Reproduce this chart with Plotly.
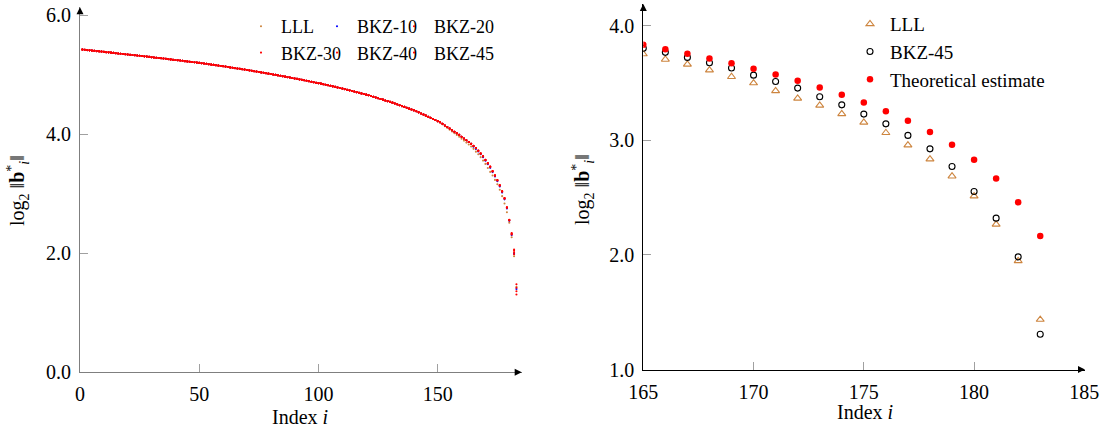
import plotly.graph_objects as go

# ---- Gram-Schmidt log-norm profiles, indices 1..183 ----
INDEX = list(range(1, 184))

# indices 1..149: all reductions overlap
PROFILE_HEAD = [
    5.420, 5.416, 5.411, 5.407, 5.403, 5.399, 5.394, 5.390, 5.386, 5.381,
    5.377, 5.373, 5.368, 5.364, 5.359, 5.355, 5.351, 5.346, 5.342, 5.337,
    5.333, 5.329, 5.324, 5.320, 5.315, 5.311, 5.306, 5.302, 5.297, 5.293,
    5.288, 5.283, 5.279, 5.274, 5.269, 5.265, 5.260, 5.255, 5.250, 5.246,
    5.241, 5.236, 5.231, 5.226, 5.221, 5.216, 5.211, 5.206, 5.201, 5.196,
    5.191, 5.185, 5.180, 5.174, 5.168, 5.163, 5.157, 5.151, 5.145, 5.140,
    5.134, 5.128, 5.121, 5.115, 5.109, 5.103, 5.096, 5.090, 5.084, 5.077,
    5.071, 5.064, 5.057, 5.050, 5.043, 5.037, 5.030, 5.023, 5.016, 5.009,
    5.002, 4.995, 4.987, 4.980, 4.972, 4.965, 4.958, 4.950, 4.943, 4.935,
    4.928, 4.920, 4.912, 4.904, 4.896, 4.888, 4.880, 4.872, 4.864, 4.856,
    4.848, 4.839, 4.830, 4.820, 4.811, 4.802, 4.793, 4.784, 4.774, 4.765,
    4.756, 4.746, 4.735, 4.725, 4.715, 4.705, 4.694, 4.684, 4.674, 4.663,
    4.653, 4.641, 4.628, 4.616, 4.603, 4.591, 4.579, 4.566, 4.554, 4.541,
    4.529, 4.515, 4.500, 4.486, 4.471, 4.457, 4.442, 4.428, 4.413, 4.399,
    4.384, 4.366, 4.347, 4.329, 4.310, 4.292, 4.273, 4.255, 4.236,
]

# indices 150..164
BKZ_MID = [4.218, 4.199, 4.173, 4.146, 4.120, 4.093, 4.067, 4.040, 4.014,
           3.987, 3.957, 3.927, 3.897, 3.867, 3.837]
LLL_MID = [4.215, 4.193, 4.164, 4.134, 4.105, 4.075, 4.046, 4.016, 3.987,
           3.957, 3.924, 3.891, 3.858, 3.825, 3.791]

# indices 165..183
TAIL_INDEX = list(range(165, 184))
LLL_TAIL = [3.753, 3.706, 3.663, 3.613, 3.555, 3.500, 3.432, 3.366, 3.305, 3.231,
            3.157, 3.066, 2.958, 2.836, 2.687, 2.513, 2.267, 1.948, 1.436]
BKZ10_TAIL = [3.790, 3.752, 3.708, 3.661, 3.612, 3.552, 3.494, 3.434, 3.362, 3.290,
              3.209, 3.122, 3.020, 2.905, 2.752, 2.545, 2.305, 1.990, 1.400]
BKZ20_TAIL = [3.798, 3.762, 3.717, 3.670, 3.623, 3.561, 3.505, 3.446, 3.372, 3.301,
              3.220, 3.134, 3.032, 2.916, 2.762, 2.552, 2.315, 2.010, 1.480]
BKZ30_TAIL = [3.801, 3.765, 3.721, 3.674, 3.627, 3.566, 3.510, 3.451, 3.376, 3.306,
              3.225, 3.140, 3.038, 2.921, 2.768, 2.556, 2.330, 2.040, 1.360]
BKZ40_TAIL = [3.802, 3.767, 3.723, 3.676, 3.629, 3.568, 3.512, 3.454, 3.378, 3.308,
              3.227, 3.142, 3.041, 2.924, 2.770, 2.560, 2.340, 2.060, 1.420]
BKZ45_TAIL = [3.803, 3.768, 3.724, 3.677, 3.631, 3.569, 3.514, 3.456, 3.380, 3.310,
              3.229, 3.144, 3.043, 2.926, 2.772, 2.554, 2.321, 1.983, 1.307]
THEORY_TAIL = [3.834, 3.794, 3.755, 3.715, 3.672, 3.624, 3.575, 3.520, 3.462, 3.397,
               3.331, 3.255, 3.170, 3.072, 2.961, 2.830, 2.667, 2.460, 2.166]

SERIES_NAMES = ["LLL", "BKZ-10", "BKZ-20", "BKZ-30", "BKZ-40", "BKZ-45"]
SERIES_VALUES = [
    PROFILE_HEAD + LLL_MID + LLL_TAIL,
    PROFILE_HEAD + BKZ_MID + BKZ10_TAIL,
    PROFILE_HEAD + BKZ_MID + BKZ20_TAIL,
    PROFILE_HEAD + BKZ_MID + BKZ30_TAIL,
    PROFILE_HEAD + BKZ_MID + BKZ40_TAIL,
    PROFILE_HEAD + BKZ_MID + BKZ45_TAIL,
]

LEFT_XTICKS = [0, 50, 100, 150]
LEFT_YTICKS = [0.0, 2.0, 4.0, 6.0]
RIGHT_XTICKS = [165, 170, 175, 180, 185]
RIGHT_YTICKS = [1.0, 2.0, 3.0, 4.0]

BROWN = "#cd853f"
SERIES_COLORS = [BROWN, "#0000ff", "#ff0000", "#ff0000", "#ff0000", "#ff0000"]
# three legend columns of two rows each
SERIES_LEGENDS = ["legend", "legend3", "legend4", "legend", "legend3", "legend4"]

FONT = "Liberation Serif"
FS = 20
W, H = 1106, 429

fig = go.Figure()

# left panel: full profiles
for name, vals, col, lg in zip(SERIES_NAMES, SERIES_VALUES, SERIES_COLORS, SERIES_LEGENDS):
    fig.add_trace(go.Scatter(
        x=INDEX, y=vals, mode="markers", name=name, legend=lg,
        marker=dict(size=2.1, color=col, line=dict(width=0)),
        xaxis="x", yaxis="y",
    ))

# right panel: tail of the profile
fig.add_trace(go.Scatter(
    x=TAIL_INDEX, y=LLL_TAIL, mode="markers", name="LLL", legend="legend2",
    marker=dict(symbol="triangle-up-open", size=7, color=BROWN, line=dict(width=1.1)),
    xaxis="x2", yaxis="y2",
))
fig.add_trace(go.Scatter(
    x=TAIL_INDEX, y=BKZ45_TAIL, mode="markers", name="BKZ-45", legend="legend2",
    marker=dict(symbol="circle-open", size=6, color="black", line=dict(width=1.1)),
    xaxis="x2", yaxis="y2",
))
fig.add_trace(go.Scatter(
    x=TAIL_INDEX, y=THEORY_TAIL, mode="markers", name="Theoretical estimate",
    legend="legend2",
    marker=dict(symbol="circle", size=6.5, color="#ff0000", line=dict(width=0)),
    xaxis="x2", yaxis="y2",
))

GRAY = "#7f7f7f"
common_axis = dict(
    showgrid=False, zeroline=False, showline=True, ticks="inside", ticklen=8,
    tickwidth=1, tickcolor="#a0a0a0", tickfont=dict(family=FONT, size=FS, color="black"),
    ticklabelstandoff=4, automargin=False,
)

x1d = [80 / W, 521.7 / W]
x2d = [643.3 / W, 1085 / W]
y1d = [(H - 372.3) / H, (H - 7.3) / H]
y2d = [(H - 369.5) / H, (H - 4) / H]


def left_legend(x_text, y_top):
    return dict(orientation="v", x=(x_text - 42) / W, y=1 - y_top / H,
                xanchor="left", yanchor="top", bgcolor="rgba(0,0,0,0)",
                font=dict(family=FONT, size=18), itemwidth=30, tracegroupgap=0)


fig.update_layout(
    template="none",
    width=W, height=H, margin=dict(l=0, r=0, t=0, b=0, autoexpand=False),
    paper_bgcolor="white", plot_bgcolor="white",
    font=dict(family=FONT, size=FS, color="black"),
    xaxis=dict(domain=x1d, range=[0, 185.2], tickvals=LEFT_XTICKS,
               anchor="y", linecolor=GRAY, **common_axis),
    yaxis=dict(domain=y1d, range=[0, 6.13], tickvals=LEFT_YTICKS, tickformat=".1f",
               anchor="x", linecolor=GRAY, **common_axis),
    xaxis2=dict(domain=x2d, range=[165, 185.03], tickvals=RIGHT_XTICKS,
                anchor="y2", linecolor="black", **common_axis),
    yaxis2=dict(domain=y2d, range=[1.0, 4.19], tickvals=RIGHT_YTICKS, tickformat=".1f",
                anchor="x2", linecolor="black", **common_axis),
    legend=left_legend(283, 8),
    legend3=left_legend(359, 8),
    legend4=left_legend(436, 8),
    legend2=dict(orientation="v", x=(892 - 42) / W, y=1 - 5 / H, xanchor="left",
                 yanchor="top", bgcolor="rgba(0,0,0,0)", font=dict(family=FONT, size=19),
                 itemwidth=30, tracegroupgap=0),
    showlegend=True,
)

ytitle = "log<sub>2</sub> ‖<b>b</b><sup>*</sup><sub><i>i</i></sub>‖"
xtitle = "Index <i>i</i>"
annotations = [
    dict(text=ytitle, x=18 / W, y=1 - 191 / H, xref="paper", yref="paper",
         xanchor="center", yanchor="middle",
         textangle=-90, showarrow=False, font=dict(family=FONT, size=FS)),
    dict(text=ytitle, x=583 / W, y=1 - 190 / H, xref="paper", yref="paper",
         xanchor="center", yanchor="middle",
         textangle=-90, showarrow=False, font=dict(family=FONT, size=FS)),
    dict(text=xtitle, x=300 / W, y=1 - 417 / H, xref="paper", yref="paper",
         xanchor="center", yanchor="middle",
         showarrow=False, font=dict(family=FONT, size=FS)),
    dict(text=xtitle, x=865 / W, y=1 - 412 / H, xref="paper", yref="paper",
         xanchor="center", yanchor="middle",
         showarrow=False, font=dict(family=FONT, size=FS)),
]
# axis arrow tips
for xr, yr, tip, tail in [
    ("x", "y", (185.2, 0), (182.0, 0)),
    ("x", "y", (0, 6.13), (0, 6.0)),
    ("x2", "y2", (185.03, 1.0), (184.7, 1.0)),
    ("x2", "y2", (165, 4.19), (165, 4.12)),
]:
    annotations.append(dict(
        x=tip[0], y=tip[1], ax=tail[0], ay=tail[1], xref=xr, yref=yr,
        axref=xr, ayref=yr, text="", showarrow=True, arrowhead=2,
        arrowsize=1.4, arrowwidth=1, arrowcolor="black", standoff=0, startstandoff=0,
    ))
fig.update_layout(annotations=annotations)

fig.write_html("out.html")
